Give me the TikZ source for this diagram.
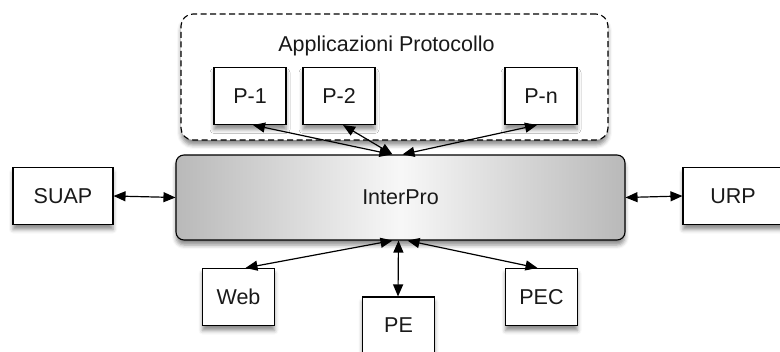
\documentclass[tikz,border=0pt]{standalone}
\usepackage{fontspec}
\setmainfont{Liberation Sans}
\usetikzlibrary{arrows.meta,positioning,calc,shadows.blur}

\begin{document}
\begin{tikzpicture}[
    x=1pt, y=-1pt,
    txt/.style={font=\fontsize{21.5}{25}\selectfont, text=black!90},
    shade/.style={blur shadow={shadow xshift=0pt, shadow yshift=-5pt, shadow blur radius=4pt, shadow opacity=45}},
    box/.style={draw=black, line width=1.1pt, fill=white, minimum width=72pt, minimum height=57pt, inner sep=0pt, txt, shade},
    link/.style={line width=1.2pt, {Triangle[length=12pt,width=10pt]}-{Triangle[length=12pt,width=10pt]}}
]
    \useasboundingbox (0,0) rectangle (780,352);

    % Applicazioni Protocollo group
    \node[draw=black, dash pattern=on 6pt off 3.5pt, line width=1.1pt, rounded corners=12pt, fill=white,
          minimum width=427pt, minimum height=126pt, shade] (apps) at (394.5,77) {};
    \node[txt] (appstitle) at (386.5,46) {Applicazioni Protocollo};

    \node[box] (p1) at (250,96) {P-1};
    \node[box] (p2) at (339,96) {P-2};
    \node[box] (pn) at (541,96) {P-n};

    % InterPro core
    \node[draw=black, line width=1.1pt, rounded corners=8pt, minimum width=449pt, minimum height=85pt,
          left color=gray!55, right color=gray!55, middle color=gray!6, txt, shade] (core) at (400.5,197.5) {InterPro};

    % External systems
    \node[box, minimum width=100pt] (suap) at (63,196) {SUAP};
    \node[box, minimum width=100pt] (urp) at (733,196) {URP};
    \node[box] (web) at (238.5,297) {Web};
    \node[box] (pe) at (398.5,325.5) {PE};
    \node[box] (pec) at (541.5,297) {PEC};

    % Links: protocol apps to InterPro
    \draw[link] ($(p1.south)+(3,0)$) -- ($(core.north)+(-9,0)$);
    \draw[link] ($(p2.south)+(4,0)$) -- ($(core.north)+(-8,0)$);
    \draw[link] ($(pn.south)+(-4,0)$) -- ($(core.north)+(2,0)$);

    % Links: side systems
    \draw[link] (suap.east) -- (core.west);
    \draw[link] (core.east) -- (urp.west);

    % Links: bottom channels
    \draw[link] ($(core.south)+(-8,0)$) -- ($(web.north)+(7,0)$);
    \draw[link] ($(core.south)+(-2,0)$) -- ($(pe.north)+(-0.5,0)$);
    \draw[link] ($(core.south)+(7,0)$) -- ($(pec.north)+(-4,0)$);

\end{tikzpicture}
\end{document}
